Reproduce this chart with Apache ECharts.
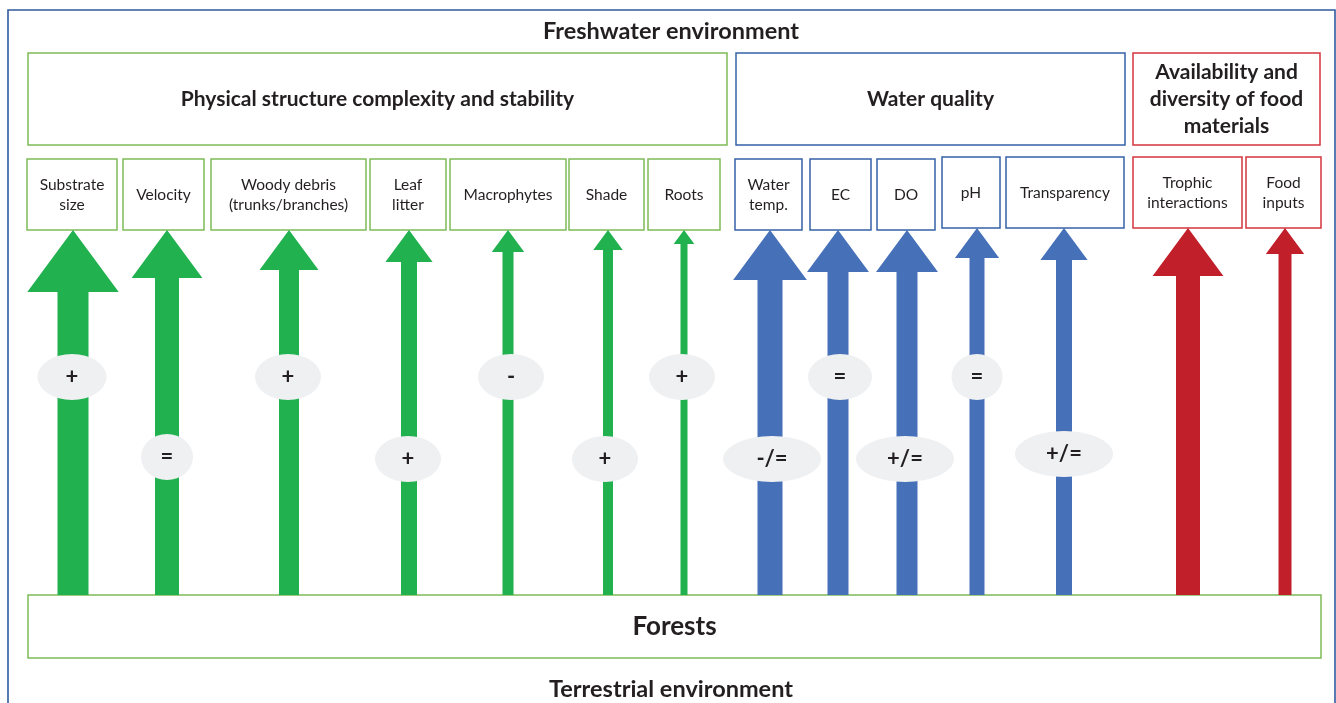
<!DOCTYPE html>
<html>
<head>
<meta charset="utf-8">
<title>Forests and the freshwater environment</title>
<script src="https://cdn.jsdelivr.net/npm/echarts@6/dist/echarts.min.js"></script>
<style>
  html, body { margin: 0; padding: 0; background: #fff; }
  #main { width: 1336px; height: 703px; }
</style>
</head>
<body>
<div id="main"></div>
<script>
// ---- data ----
const groupNames = ['Physical structure complexity and stability', 'Water quality', 'Availability and\ndiversity of food\nmaterials']
const factorNames = ['Substrate\nsize', 'Velocity', 'Woody debris\n(trunks/branches)', 'Leaf\nlitter', 'Macrophytes', 'Shade', 'Roots',
  'Water\ntemp.', 'EC', 'DO', 'pH', 'Transparency', 'Trophic\ninteractions', 'Food\ninputs']
const factorGroup = [0, 0, 0, 0, 0, 0, 0, 1, 1, 1, 1, 1, 2, 2]
const arrowWeight = [31, 24, 20, 16, 11, 10, 7, 25, 21, 21, 15, 16, 24, 13]
const effects = ['+', '=', '+', '+', '-', '+', '+', '-/=', '=', '+/=', '=', '+/=']

// ---- layout (axis units = pixels) ----
const groupBox = [[28, 53, 727, 145], [736, 53, 1125, 145], [1133, 53, 1320, 145]]
const factorBox = [[27, 159, 117, 230], [123, 159, 204, 230], [211, 159, 366, 230], [370, 159, 446, 230],
  [450, 159, 566, 230], [569, 159, 644, 230], [648, 159, 720, 230], [735, 159, 802, 230],
  [810, 159, 871, 230], [877, 159, 935, 230], [942, 157, 1000, 228], [1006, 157, 1124, 228],
  [1133, 157, 1242, 228], [1246, 157, 1321, 228]]
const forestBox = [28, 595, 1321, 658]
const arrowX = [73, 167, 289, 409, 508, 608, 684, 770, 838, 907, 977, 1064, 1188, 1285]
const effectPos = [[72, 377], [167, 457], [288, 377], [408, 459], [511, 377], [605, 459], [682, 377],
  [772, 459], [840, 377], [905, 459], [977, 377], [1064, 454]]
const effectW = [69, 52, 66, 66, 66, 66, 66, 98, 64, 98, 51, 98]

const arrowColor = ['#21b14f', '#4671b9', '#c1202a']
const boxColor = ['#7dbc57', '#3662a6', '#d4363f']
const ink = '#231f20'
const fontFam = 'Lato, "Open Sans", sans-serif'

let myChart = echarts.init(document.getElementById('main'))

function boxRender(boxes, names, colorOf, font, lineHeight) {
  return function (params, api) {
    let i = params.dataIndex
    let p0 = api.coord([api.value(0), api.value(1)])
    let p1 = api.coord([api.value(2), api.value(3)])
    return {
      type: 'rect',
      shape: { x: p0[0], y: p0[1], width: p1[0] - p0[0], height: p1[1] - p0[1] },
      style: { fill: '#fff', stroke: colorOf(i), lineWidth: 1.5 },
      textContent: {
        type: 'text',
        style: { text: names[i], font: font, fill: ink, align: 'center', verticalAlign: 'middle', lineHeight: lineHeight }
      },
      textConfig: { position: 'inside' }
    }
  }
}

myChart.setOption({
  animation: false,
  grid: { left: 0, right: 0, top: 0, bottom: 0 },
  xAxis: { type: 'value', min: 0, max: 1336, show: false },
  yAxis: { type: 'value', min: 0, max: 703, inverse: true, show: false },
  graphic: [
    { type: 'rect', shape: { x: 8, y: 10, width: 1327, height: 720 }, style: { fill: 'none', stroke: '#2f5b9f', lineWidth: 1.6 }, z: 0 },
    { type: 'text', x: 671, y: 31, style: { text: 'Freshwater environment', font: 'bold 23.5px ' + fontFam, fill: ink, align: 'center', verticalAlign: 'middle' } },
    { type: 'text', x: 671, y: 689, style: { text: 'Terrestrial environment', font: 'bold 23.5px ' + fontFam, fill: ink, align: 'center', verticalAlign: 'middle' } }
  ],
  series: [
    {
      type: 'custom',
      name: 'groups',
      encode: { x: [0, 2], y: [1, 3] },
      data: groupBox,
      renderItem: boxRender(groupBox, groupNames, i => boxColor[i], 'bold 21px ' + fontFam, 27),
      z: 2
    },
    {
      type: 'custom',
      name: 'factors',
      encode: { x: [0, 2], y: [1, 3] },
      data: factorBox,
      renderItem: boxRender(factorBox, factorNames, i => boxColor[factorGroup[i]], '15.5px ' + fontFam, 20),
      z: 2
    },
    {
      type: 'custom',
      name: 'forests',
      encode: { x: [0, 2], y: [1, 3] },
      data: [forestBox],
      renderItem: boxRender([forestBox], ['Forests'], () => boxColor[0], 'bold 26px ' + fontFam, 30),
      z: 1
    },
    {
      type: 'custom',
      name: 'arrows',
      encode: { x: 0, y: [1, 2] },
      data: arrowX.map((x, i) => [x, factorBox[i][3], forestBox[1], arrowWeight[i]]),
      renderItem: function (params, api) {
        let i = params.dataIndex
        let x = api.value(0)
        let tip = api.value(1)
        let base = api.value(2)
        let w = api.value(3)
        let hw = w * 2.95
        let hh = w * 2
        let pts = [
          [x - w / 2, base], [x - w / 2, tip + hh], [x - hw / 2, tip + hh], [x, tip],
          [x + hw / 2, tip + hh], [x + w / 2, tip + hh], [x + w / 2, base]
        ].map(p => api.coord(p))
        return {
          type: 'polygon',
          shape: { points: pts },
          style: { fill: arrowColor[factorGroup[i]] }
        }
      },
      z: 3
    },
    {
      type: 'scatter',
      name: 'effects',
      data: effectPos,
      symbol: 'circle',
      symbolSize: (val, params) => [effectW[params.dataIndex], 46],
      itemStyle: { color: '#eff0f2', opacity: 1 },
      label: {
        show: true,
        position: 'inside',
        formatter: p => effects[p.dataIndex],
        color: ink,
        fontFamily: fontFam,
        fontWeight: 'bold',
        fontSize: 22
      },
      z: 4
    }
  ]
})
</script>
</body>
</html>
